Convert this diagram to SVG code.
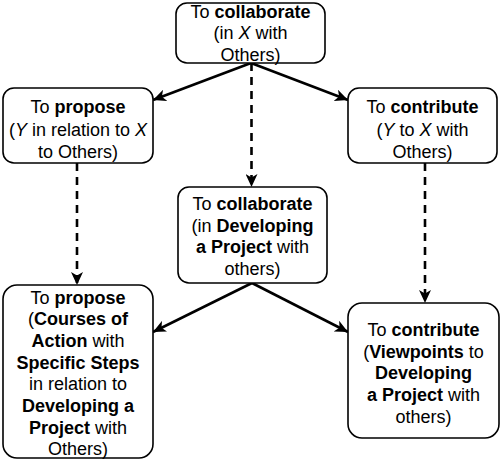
<svg xmlns="http://www.w3.org/2000/svg" width="502" height="460" viewBox="0 0 502 460">
<style>
.box{fill:#fff;stroke:#000;stroke-width:1.6}
text{font-family:"Liberation Sans",Arial,sans-serif;font-size:18px;fill:#000;text-anchor:middle}
.b{font-weight:bold}
.i{font-style:italic}
.con{stroke:#000;stroke-width:2.6;fill:none}
.dash{stroke-dasharray:8 6}
</style>
<defs>
<marker id="arr" markerUnits="userSpaceOnUse" markerWidth="14" markerHeight="12" refX="13" refY="6" orient="auto">
<path d="M0,0 L13,6 L0,12 L3.5,6 Z" fill="#000"/>
</marker>
</defs>
<rect x="0" y="0" width="502" height="460" fill="#fff"/>
<g id="connectors">
<line class="con" x1="251" y1="63" x2="153" y2="100" marker-end="url(#arr)"/>
<line class="con" x1="251" y1="63" x2="348" y2="100" marker-end="url(#arr)"/>
<line class="con dash" x1="251.5" y1="63" x2="251.5" y2="187" marker-end="url(#arr)"/>
<line class="con dash" x1="77" y1="163" x2="77" y2="285" marker-end="url(#arr)"/>
<line class="con dash" x1="425" y1="163" x2="425" y2="303" marker-end="url(#arr)"/>
<line class="con" x1="252" y1="283" x2="153" y2="332" marker-end="url(#arr)"/>
<line class="con" x1="252" y1="283" x2="348" y2="332" marker-end="url(#arr)"/>
</g>
<g id="n1">
<rect class="box" x="176" y="3" width="149" height="60" rx="11"/>
<text x="250.5" y="17.5">To <tspan class="b">collaborate</tspan></text>
<text x="250.5" y="39">(in <tspan class="i">X</tspan> with</text>
<text x="250.5" y="60.5">Others)</text>
</g>
<g id="n2">
<rect class="box" x="3" y="88" width="150" height="75" rx="11"/>
<text x="78" y="113">To <tspan class="b">propose</tspan></text>
<text x="78" y="135.5">(<tspan class="i">Y</tspan> in relation to <tspan class="i">X</tspan></text>
<text x="78" y="157.5">to Others)</text>
</g>
<g id="n3">
<rect class="box" x="348" y="88" width="149" height="75" rx="11"/>
<text x="422.5" y="113">To <tspan class="b">contribute</tspan></text>
<text x="422.5" y="135.5">(<tspan class="i">Y</tspan> to <tspan class="i">X</tspan> with</text>
<text x="422.5" y="157.5">Others)</text>
</g>
<g id="n4">
<rect class="box" x="178" y="187" width="149" height="96" rx="11"/>
<text x="252.5" y="210">To <tspan class="b">collaborate</tspan></text>
<text x="252.5" y="231.7">(in <tspan class="b">Developing</tspan></text>
<text x="252.5" y="253.4"><tspan class="b">a Project</tspan> with</text>
<text x="252.5" y="275">others)</text>
</g>
<g id="n5">
<rect class="box" x="3" y="285" width="150" height="173" rx="14"/>
<text x="78" y="303.5">To <tspan class="b">propose</tspan></text>
<text x="78" y="325.2">(<tspan class="b">Courses of</tspan></text>
<text x="78" y="346.9"><tspan class="b">Action</tspan> with</text>
<text x="78" y="368.6"><tspan class="b">Specific Steps</tspan></text>
<text x="78" y="390.3">in relation to</text>
<text x="78" y="412"><tspan class="b">Developing a</tspan></text>
<text x="78" y="433.7"><tspan class="b">Project</tspan> with</text>
<text x="78" y="455.4">Others)</text>
</g>
<g id="n6">
<rect class="box" x="348" y="303" width="151" height="135" rx="14"/>
<text x="423.5" y="336">To <tspan class="b">contribute</tspan></text>
<text x="423.5" y="357.7">(<tspan class="b">Viewpoints</tspan> to</text>
<text x="423.5" y="379.4"><tspan class="b">Developing</tspan></text>
<text x="423.5" y="401.1"><tspan class="b">a Project</tspan> with</text>
<text x="423.5" y="422.8">others)</text>
</g>
</svg>
